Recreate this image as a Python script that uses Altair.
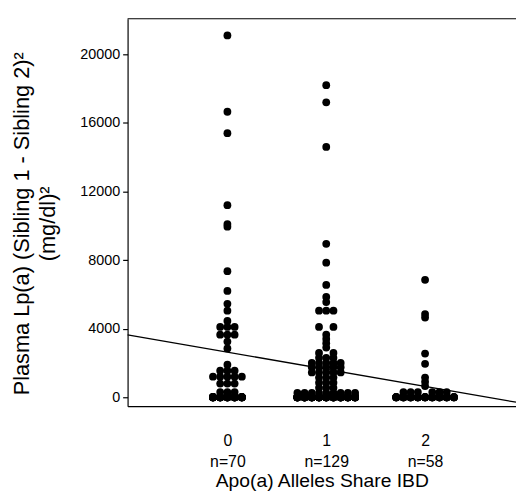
import json
import altair as alt
import pandas as pd

# ---- data ----
groups = [0, 1, 2]
n_labels = ["n=70", "n=129", "n=58"]

g0_values = [21100, 16650, 15400, 11200, 10100, 9950, 7350, 6200, 5450, 5050,
             4450, 4100, 4100, 4100, 3650, 3650, 3650, 3250, 2850,
             1900, 1550, 1550, 1550, 1200, 1200, 1200, 1200, 1200,
             800, 800, 800, 300, 300, 300] + [0] * 36
g1_values = [18200, 17200, 14600, 8950, 7850, 6550, 5850, 5550, 5050, 5050, 5050,
             4100, 4100, 3650, 3400, 3150, 2900, 2580, 2580, 2300, 2300, 2300,
             2000, 2000, 2000, 2000, 2000, 1750, 1750, 1750, 1750, 1750,
             1450, 1450, 1450, 1450, 1450, 1150, 1150, 1150, 850, 850, 850,
             550, 550, 550, 250, 250, 250, 250, 250, 250, 250, 250, 250] + [0] * 74
g2_values = [6850, 4850, 4650, 2550, 1950, 1150, 900, 650,
             300, 300, 300, 300, 300, 300] + [0] * 44
group_values = [g0_values, g1_values, g2_values]
row_slots = [5, 9, 9]          # widest row of dots seen in each column

reg_intercept = 2630            # fitted line
reg_slope = -1000

# ---- layout ----
W, H = 393, 392
xdom = [-1.01, 2.92]
ydom = [-520, 22075]
px_per_unit = W / (xdom[1] - xdom[0])
step_px = 7.3


def dot_rows(g, vals, kmax):
    out = []
    counts = {}
    for v in vals:
        counts[v] = counts.get(v, 0) + 1
    for v, c in counts.items():
        k = min(c, kmax)
        if k % 2 == 1:
            slots = list(range(-(k - 1) // 2, (k - 1) // 2 + 1))
        else:
            slots = list(range(-k // 2, 0)) + list(range(1, k // 2 + 1))
        for i in range(c):
            off = slots[i % k] * step_px
            out.append({"group": g, "value": v, "xpos": g + off / px_per_unit})
    return out


rows = []
for g, vals, k in zip(groups, group_values, row_slots):
    rows += dot_rows(g, vals, k)
df = pd.DataFrame(rows)

line_df = pd.DataFrame({"x": xdom})
line_df["y"] = reg_intercept + reg_slope * line_df["x"]

FONT = "Liberation Sans"

x_axis = alt.Axis(
    values=groups, format="d", ticks=False, tickSize=0, grid=False,
    labelExpr="[datum.label, " + json.dumps(n_labels).replace('"', "'") + "[datum.value]]",
    labelFontSize=16, labelPadding=27, labelLineHeight=21, labelColor="black",
    labelFont=FONT,
    title="Apo(a) Alleles Share IBD", titleFontSize=19.5, titleFontWeight="normal",
    titleFont=FONT, titleColor="black", titleBaseline="alphabetic", titleY=81,
    domainColor="black", domainWidth=1.2,
)
y_axis = alt.Axis(
    values=[0, 4000, 8000, 12000, 16000, 20000], format="d", grid=False,
    tickSize=5, tickColor="black", tickWidth=1.2,
    labelFontSize=14.5, labelPadding=3, labelColor="black", labelFont=FONT,
    title=["Plasma Lp(a) (Sibling 1 - Sibling 2)²", "(mg/dl)²"],
    titleFontSize=22, titleFontWeight="normal", titleFont=FONT, titleColor="black",
    titleAngle=270, titleX=-107, titleY=207, titleBaseline="middle",
    titleAlign="center", titleLineHeight=26,
    domainColor="black", domainWidth=1.2,
)

xs = alt.Scale(domain=xdom, nice=False, zero=False)
ys = alt.Scale(domain=ydom, nice=False, zero=False)

points = alt.Chart(df).mark_circle(size=62, color="black", opacity=1).encode(
    x=alt.X("xpos:Q", scale=xs, axis=x_axis),
    y=alt.Y("value:Q", scale=ys, axis=y_axis),
)
reg_line = alt.Chart(line_df).mark_line(color="black", strokeWidth=1.3).encode(
    x=alt.X("x:Q", scale=xs),
    y=alt.Y("y:Q", scale=ys),
)
top_border = alt.Chart(pd.DataFrame({"a": [0]})).mark_rule(
    color="black", strokeWidth=1.2
).encode(x=alt.value(0), x2=alt.value(W), y=alt.value(0))

chart = (
    alt.layer(points, reg_line, top_border)
    .properties(
        width=W, height=H,
        padding={"left": 121, "top": 8, "right": 0, "bottom": 85},
        autosize=alt.AutoSizeParams(type="none"),
    )
    .configure_view(stroke=None)
)

chart.save("out.html", embed_options={"renderer": "svg", "actions": False})
